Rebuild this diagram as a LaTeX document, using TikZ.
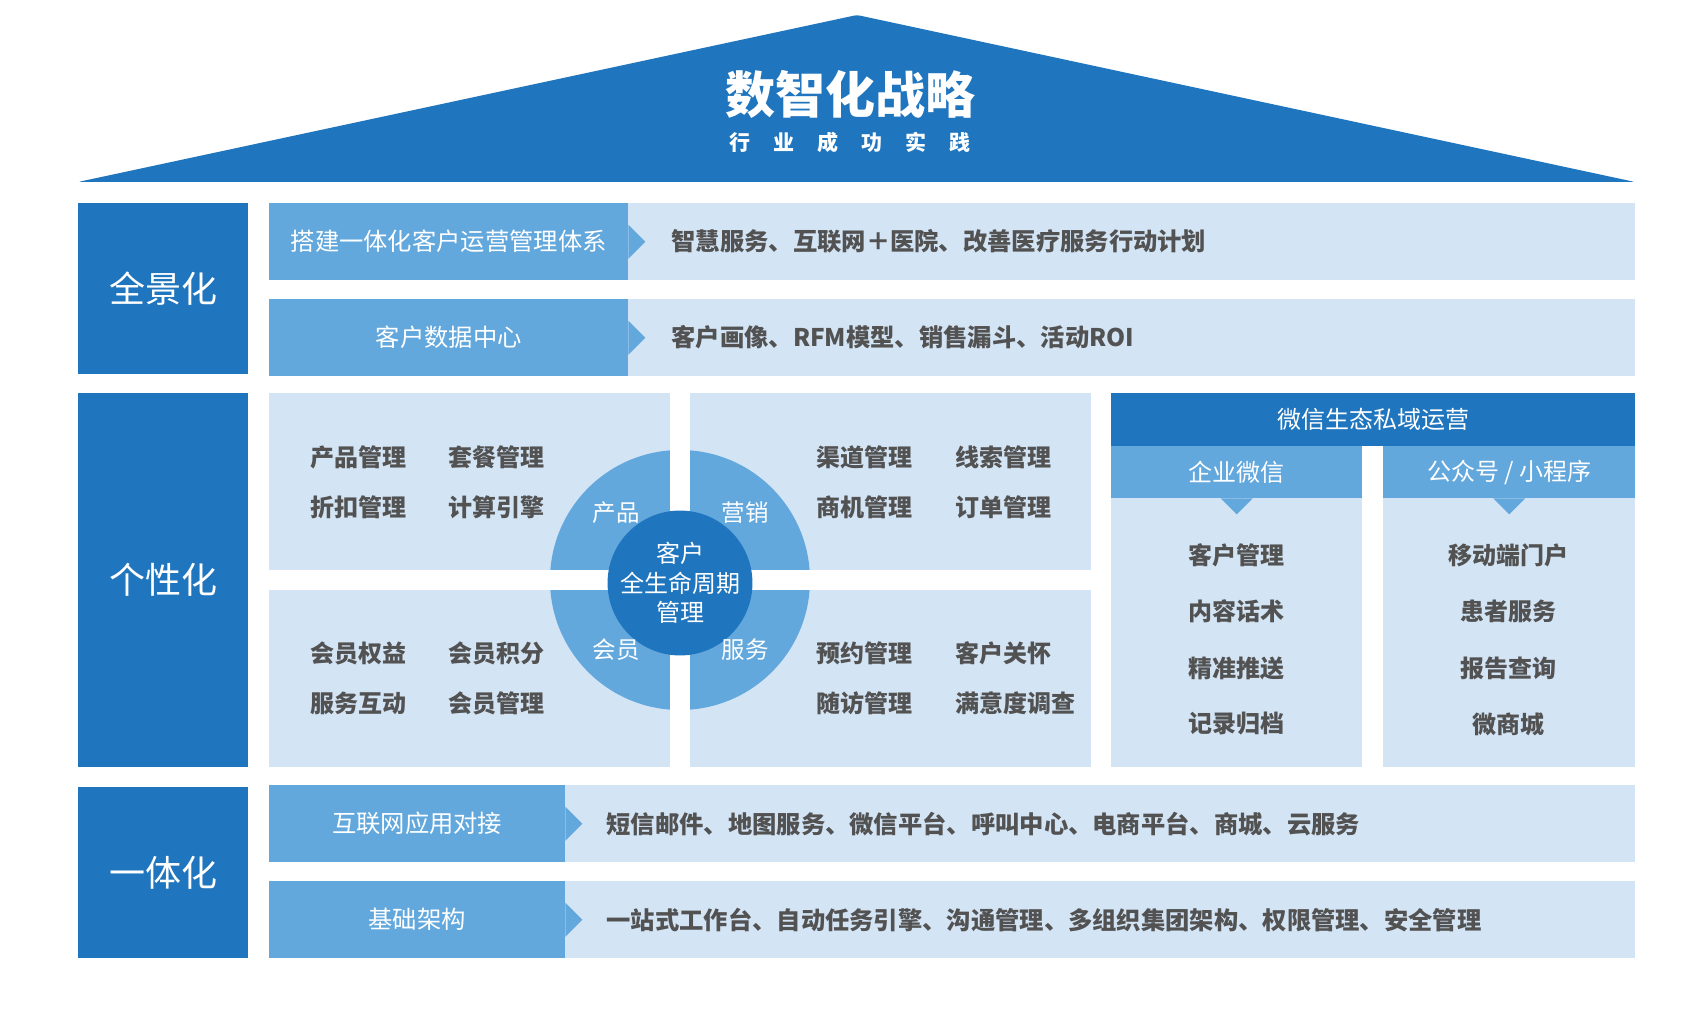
\documentclass[tikz,border=0pt]{standalone}
\usepackage{fontspec}
\setmainfont{Noto Sans CJK SC}
\usetikzlibrary{positioning,calc}
\definecolor{azulOscuro}{RGB}{31,117,190}
\definecolor{azulMedio}{RGB}{99,168,221}
\definecolor{azulClaro}{RGB}{211,228,245}
\definecolor{gris}{RGB}{82,82,82}
\tikzset{
  pilar/.style={fill=azulOscuro,text=white,font=\fontsize{36}{40}\selectfont,
                inner sep=0pt,minimum width=170pt,anchor=north west},
  barra/.style={fill=azulClaro,inner sep=0pt,minimum width=1366pt,minimum height=77pt,anchor=north west},
  etiq/.style={fill=azulMedio,text=white,font=\fontsize{24.3}{27}\selectfont,
               inner sep=0pt,minimum height=77pt,anchor=north west},
  linea/.style={text=gris,font=\fontsize{24.3}{27}\selectfont\bfseries,inner sep=0pt,anchor=west},
  cuadro/.style={fill=azulClaro,inner sep=0pt,minimum width=401pt,minimum height=177pt,anchor=north west},
  item/.style={text=gris,font=\fontsize{24}{27}\selectfont\bfseries,inner sep=0pt,anchor=west},
  anillo/.style={text=white,font=\fontsize{23.5}{26}\selectfont,inner sep=0pt},
  sub/.style={fill=azulMedio,text=white,font=\fontsize{24}{27}\selectfont,inner sep=0pt,
              minimum width=252pt,minimum height=52pt,anchor=north west},
  wx/.style={text=gris,font=\fontsize{24}{27}\selectfont\bfseries,inner sep=0pt},
}
\begin{document}
\begin{tikzpicture}[x=1pt,y=-1pt]
  \useasboundingbox[fill=white] (0,0) rectangle (1694,1024);
  % techo
  \fill[azulOscuro,rounded corners=3pt] (78,182) -- (857,15) -- (1635,182) -- cycle;
  \node[text=white,font=\fontsize{50}{56}\selectfont\bfseries,inner sep=0pt] (titulo) at (850,94) {数智化战略};
  \node[text=white,font=\fontsize{21}{24}\selectfont\bfseries,inner sep=0pt] (subtitulo) at (850,143)
    {行\hspace{23pt}业\hspace{23pt}成\hspace{23pt}功\hspace{23pt}实\hspace{23pt}践};
  % pilares
  \node[pilar,minimum height=171pt] (quanjing) at (78,203) {全景化};
  \node[pilar,minimum height=374pt] (gexing) at (78,393) {个性化};
  \node[pilar,minimum height=171pt] (yiti) at (78,787) {一体化};
  % filas de arriba y de abajo
  \node[barra] (f1) at (269,203) {};
  \node[etiq,minimum width=359pt] (f1e) at (269,203) {搭建一体化客户运营管理体系};
  \fill[azulMedio] ($(f1e.east)+(0,-17)$) -- ++(17,17) -- ++(-17,17) -- cycle;
  \node[linea,right=43pt of f1e] (f1t) {智慧服务、互联网＋医院、改善医疗服务行动计划};
  \node[barra] (f2) at (269,299) {};
  \node[etiq,minimum width=359pt] (f2e) at (269,299) {客户数据中心};
  \fill[azulMedio] ($(f2e.east)+(0,-17)$) -- ++(17,17) -- ++(-17,17) -- cycle;
  \node[linea,right=43pt of f2e] (f2t) {客户画像、RFM模型、销售漏斗、活动ROI};
  \node[barra] (f5) at (269,785) {};
  \node[etiq,minimum width=296pt] (f5e) at (269,785) {互联网应用对接};
  \fill[azulMedio] ($(f5e.east)+(0,-17)$) -- ++(17,17) -- ++(-17,17) -- cycle;
  \node[linea,right=41pt of f5e] (f5t) {短信邮件、地图服务、微信平台、呼叫中心、电商平台、商城、云服务};
  \node[barra] (f6) at (269,881) {};
  \node[etiq,minimum width=296pt] (f6e) at (269,881) {基础架构};
  \fill[azulMedio] ($(f6e.east)+(0,-17)$) -- ++(17,17) -- ++(-17,17) -- cycle;
  \node[linea,right=41pt of f6e] (f6t) {一站式工作台、自动任务引擎、沟通管理、多组织集团架构、权限管理、安全管理};
  % cuadrantes
  \node[cuadro] (cTL) at (269,393) {};
  \node[cuadro] (cTR) at (690,393) {};
  \node[cuadro] (cBL) at (269,590) {};
  \node[cuadro] (cBR) at (690,590) {};
  \fill[azulMedio] (680,580) circle (130);
  \fill[white] (670,393) rectangle (690,767);
  \fill[white] (269,570) rectangle (1091,590);
  \node[circle,fill=azulOscuro,minimum size=136pt,inner sep=0pt,text=white,align=center,
        font=\fontsize{24}{29.5}\selectfont] (cliente) at (680,583) {客户\\全生命周期\\管理};
  \node[anillo] (producto) at (616,513) {产品};
  \node[anillo] (marketing) at (745,513) {营销};
  \node[anillo] (miembro) at (616,650) {会员};
  \node[anillo] (servicio) at (745,650) {服务};
  \node[item] (a1) at (310,457) {产品管理};
  \node[item] (a2) at (448,457) {套餐管理};
  \node[item] (a3) at (310,507) {折扣管理};
  \node[item] (a4) at (448,507) {计算引擎};
  \node[item] (b1) at (816,457) {渠道管理};
  \node[item] (b2) at (955,457) {线索管理};
  \node[item] (b3) at (816,507) {商机管理};
  \node[item] (b4) at (955,507) {订单管理};
  \node[item] (c1) at (310,653) {会员权益};
  \node[item] (c2) at (448,653) {会员积分};
  \node[item] (c3) at (310,703) {服务互动};
  \node[item] (c4) at (448,703) {会员管理};
  \node[item] (d1) at (816,653) {预约管理};
  \node[item] (d2) at (955,653) {客户关怀};
  \node[item] (d3) at (816,703) {随访管理};
  \node[item] (d4) at (955,703) {满意度调查};
  % wechat
  \node[fill=azulOscuro,text=white,font=\fontsize{24}{27}\selectfont,inner sep=0pt,
        minimum width=524pt,minimum height=53pt,anchor=north west] (weixin) at (1111,393) {微信生态私域运营};
  \fill[azulClaro] (1111,498) rectangle (1362,767);
  \fill[azulClaro] (1383,498) rectangle (1635,767);
  \node[sub,minimum width=251pt] (qiye) at (1111,446) {企业微信};
  \node[sub] (gzh) at (1383,446) {公众号 / 小程序};
  \fill[azulMedio] ($(qiye.south)+(-16,0)$) -- ++(16,16) -- ++(16,-16) -- cycle;
  \fill[azulMedio] ($(gzh.south)+(-16,0)$) -- ++(16,16) -- ++(16,-16) -- cycle;
  \node[wx] (q1) at (1236,555) {客户管理};
  \node[wx] (q2) at (1236,611) {内容话术};
  \node[wx] (q3) at (1236,668) {精准推送};
  \node[wx] (q4) at (1236,724) {记录归档};
  \node[wx] (g1) at (1508,555) {移动端门户};
  \node[wx] (g2) at (1508,611) {患者服务};
  \node[wx] (g3) at (1508,668) {报告查询};
  \node[wx] (g4) at (1508,724) {微商城};
\end{tikzpicture}
\end{document}
